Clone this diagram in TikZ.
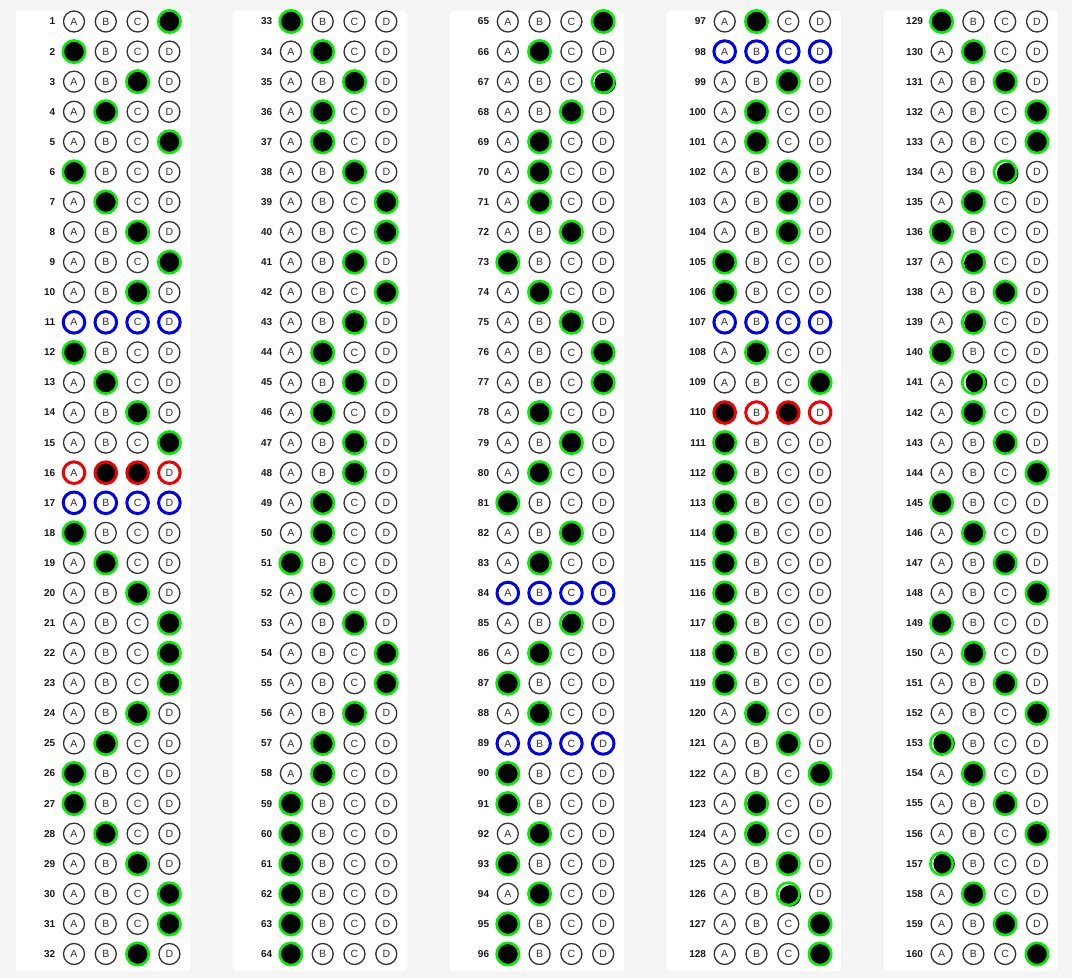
\documentclass[tikz,border=0pt]{standalone}
\usepackage{fontspec}
\setmainfont{Liberation Sans}
\definecolor{bgc}{HTML}{F5F5F5}
\definecolor{inkc}{HTML}{333333}
\definecolor{grn}{HTML}{00F000}
\definecolor{blu}{HTML}{0000F0}
\definecolor{redc}{HTML}{F00000}
\tikzset{
  panel/.style={fill=white,draw=black!6,line width=0.8pt,rounded corners=4pt},
  emptyb/.style={circle,draw=inkc,line width=1.3pt,fill=white,minimum size=21pt,inner sep=0pt,font=\fontsize{10.5}{10.5}\selectfont,text=inkc},
  fillb/.style={circle,draw=grn,line width=2.6pt,fill=black,minimum size=22.4pt,inner sep=0pt},
  blueb/.style={circle,draw=blu,line width=3pt,fill=white,minimum size=21.6pt,inner sep=0pt,font=\fontsize{10.5}{10.5}\selectfont,text=inkc},
  redb/.style={circle,draw=redc,line width=3pt,fill=white,minimum size=21.6pt,inner sep=0pt,font=\fontsize{10.5}{10.5}\selectfont,text=inkc},
  redfill/.style={circle,draw=redc,line width=3pt,fill=black,minimum size=21.6pt,inner sep=0pt},
  qnum/.style={anchor=east,inner sep=0pt,font=\bfseries\fontsize{10}{10}\selectfont,text=black!90},
  ringonly/.style={circle,draw=grn,line width=2.6pt,minimum size=22.4pt,inner sep=0pt},
  blackdisk/.style={circle,fill=black,minimum size=21.5pt,inner sep=0pt},
  whitedisk/.style={circle,fill=white,minimum size=25.5pt,inner sep=0pt}
}
% codes: 1-4 filled letter, 5 blue row, 6 red row (B,C filled), 7 red row (A,C filled)
\begin{document}
\begin{tikzpicture}[x=1pt,y=-1pt]
\useasboundingbox (0,0) rectangle (1072,978);
\fill[bgc] (0,0) rectangle (1072,978);
\foreach \k in {0,...,4}{
  \path[panel] (15+216.9*\k,10) rectangle (191+216.9*\k,972);
}
\foreach \a [count=\q] in {
4,1,3,2,4,1,2,3,4,3,5,1,2,3,4,6,5,1,2,3,4,4,4,3,2,1,1,2,3,4,4,3,
1,2,3,2,2,3,4,4,3,4,3,2,3,2,3,3,2,2,1,2,3,4,4,3,2,2,1,1,1,1,1,1,
4,2,4,3,2,2,2,3,1,2,3,4,4,2,3,2,1,3,2,5,3,2,1,2,5,1,1,2,1,2,1,1,
2,5,3,2,2,3,3,3,1,1,5,2,4,7,1,1,1,1,1,1,1,1,1,2,3,4,2,2,3,3,4,4,
1,2,3,4,4,3,2,1,2,3,2,1,2,2,3,4,1,2,3,4,1,2,3,4,1,2,3,4,1,2,3,4}{
  \pgfmathtruncatemacro{\col}{(\q-1)/32}
  \pgfmathtruncatemacro{\row}{\q-1-32*\col}
  \pgfmathsetmacro{\bx}{74+216.9*\col}
  \pgfmathsetmacro{\by}{21.5+30.08*\row}
  \node[qnum] (n\q) at (\bx-18.5,\by) {\q};
  \foreach \j/\L in {1/A,2/B,3/C,4/D}{
    \pgfmathsetmacro{\cx}{\bx+31.8*(\j-1)}
    \ifnum\a<5
      \ifnum\a=\j
        \node[fillb] (b\q-\j) at (\cx,\by) {};
      \else
        \node[emptyb] (b\q-\j) at (\cx,\by) {\L};
      \fi
    \else\ifnum\a=5
      \node[blueb] (b\q-\j) at (\cx,\by) {\L};
    \else\ifnum\a=6
      \ifodd\j \ifnum\j=3 \node[redfill] (b\q-\j) at (\cx,\by) {};\else\node[redb] (b\q-\j) at (\cx,\by) {\L};\fi
      \else \ifnum\j=2 \node[redfill] (b\q-\j) at (\cx,\by) {};\else\node[redb] (b\q-\j) at (\cx,\by) {\L};\fi\fi
    \else
      \ifodd\j \node[redfill] (b\q-\j) at (\cx,\by) {};
      \else \node[redb] (b\q-\j) at (\cx,\by) {\L};\fi
    \fi\fi\fi
  }
}
% slightly misplaced fills
\foreach \q/\j/\dx/\dy in {67/4/2/1.5,134/3/2.5/1.5,141/2/3/0,153/1/2.5/0,157/1/2.5/0,126/3/2/2,137/2/1.5/1,139/2/1.5/0.5,150/2/1/0.5,123/2/1.5/0,124/2/1.2/0.5,85/3/1/1}{
  \node[whitedisk] (w\q) at (b\q-\j.center) {};
  \node[blackdisk] (k\q) at ([shift={(\dx,\dy)}]b\q-\j.center) {};
  \node[ringonly] (r\q) at (b\q-\j.center) {};
}
\end{tikzpicture}
\end{document}
